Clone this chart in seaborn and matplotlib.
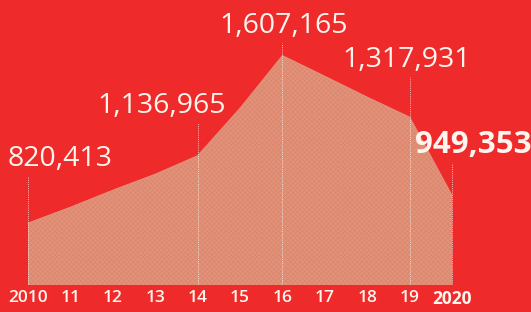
import matplotlib
matplotlib.use('Agg')
import matplotlib.pyplot as plt
import seaborn as sns
import pandas as pd

# 数据
years = [2010, 2011, 2012, 2013, 2014, 2015, 2016, 2017, 2018, 2019, 2020]
values = [820413, 895000, 975000, 1050000, 1136965, 1360000, 1607165,
          1510000, 1412000, 1317931, 949353]
tick_labels = ['2010', '11', '12', '13', '14', '15', '16', '17', '18', '19', '2020']
label_years = [2010, 2014, 2016, 2019, 2020]
label_texts = ['820,413', '1,136,965', '1,607,165', '1,317,931', '949,353']

df = pd.DataFrame({'year': years, 'value': values})

sns.set_theme(style='white')
plt.rcParams['font.family'] = ['Open Sans', 'DejaVu Sans']
plt.rcParams['hatch.linewidth'] = 0.4

RED = '#ee2a2a'
FILL = '#e3927a'
WHITE = '#fff4ee'

fig = plt.figure(figsize=(5.31, 3.12), dpi=100, facecolor=RED)
ax = fig.add_axes([0, 27 / 312, 1, 285 / 312])
ax.set_facecolor(RED)

ymin, ymax = 530000, 1868500
ax.set_xlim(2009.34, 2021.86)
ax.set_ylim(ymin, ymax)

ax.fill_between(df['year'], ymin, df['value'], facecolor=FILL,
                edgecolor='#d9846d', hatch='xxxxxxx', linewidth=0)
sns.lineplot(data=df, x='year', y='value', ax=ax, color=FILL, linewidth=0.8)

# 像素 -> 数据单位
px_per_val = 285 / (ymax - ymin)

# 标签偏移 (像素): dx, 基线高度, 对齐方式
offsets = [(-20, 57, 'left'), (28, 43, 'right'), (1, 23, 'center'),
           (-3, 50, 'center'), (-37, 43, 'left')]

for yr, txt, (dx, dy, ha) in zip(label_years, label_texts, offsets):
    val = df.loc[df['year'] == yr, 'value'].iloc[0]
    top = val + (dy - 10) / px_per_val
    ax.vlines(yr, ymin, top, colors=WHITE, linestyles=(0, (1, 1.2)),
              linewidth=0.7, alpha=0.75)
    bold = yr == 2020
    ax.annotate(txt, xy=(yr, val), xytext=(dx, dy), textcoords='offset pixels',
                ha=ha, va='baseline', color=WHITE, fontsize=22.5 if bold else 20.5,
                fontweight='bold' if bold else 'normal')

ax.set_xticks(years)
ax.set_xticklabels(tick_labels)
for lab in ax.get_xticklabels():
    lab.set_color(WHITE)
    lab.set_fontsize(12.5)
    lab.set_fontweight('bold' if lab.get_text() == '2020' else 'semibold')
ax.tick_params(axis='x', length=0, pad=3.5)
ax.set_yticks([])
ax.set_xlabel('')
ax.set_ylabel('')
for s in ax.spines.values():
    s.set_visible(False)

plt.savefig('out.png', dpi=100, facecolor=RED)
